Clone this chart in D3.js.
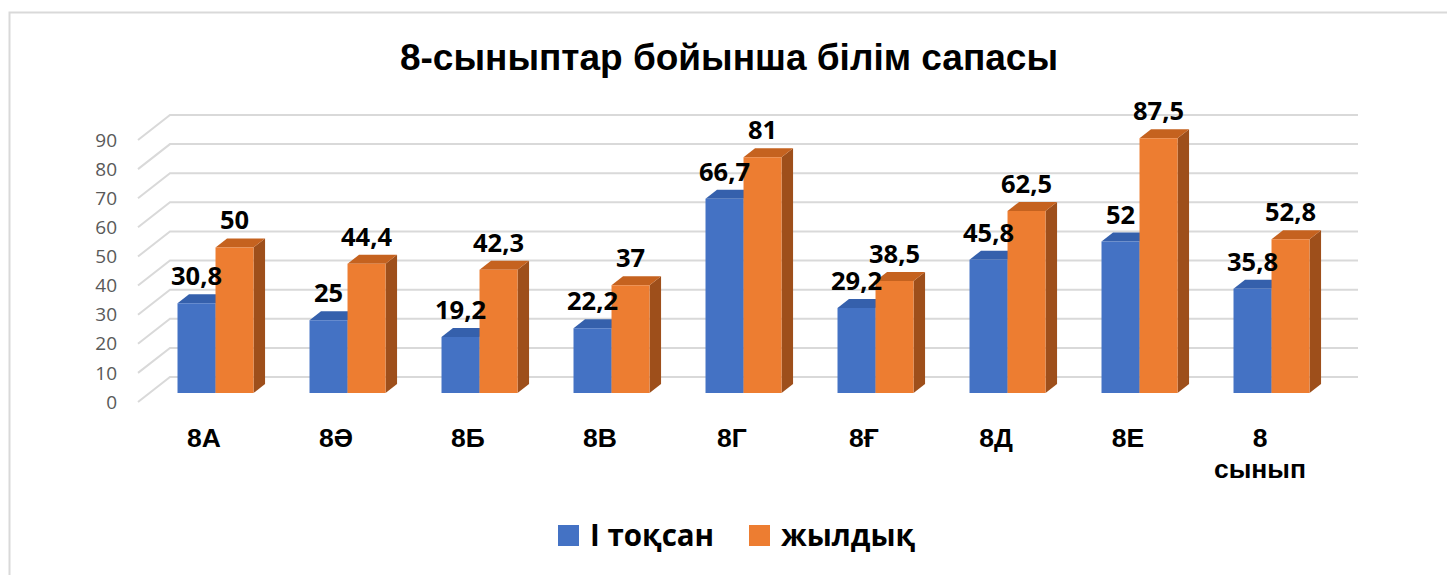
<!DOCTYPE html>
<html>
<head>
<meta charset="utf-8">
<script src="https://cdn.jsdelivr.net/npm/d3@7"></script>
<style>
  html, body { margin: 0; padding: 0; background: #fff; }
  svg { display: block; }
</style>
</head>
<body>
<div id="chart"></div>
<script>
// ---------------------------------------------
// DATA
// ---------------------------------------------
const categories = ["8А", "8Ә", "8Б", "8В", "8Г", "8Ғ", "8Д", "8Е", "8 сынып"];
const seriesNames = ["І тоқсан", "жылдық"];
const quarterValues = [30.8, 25, 19.2, 22.2, 66.7, 29.2, 45.8, 52, 35.8];
const yearValues    = [50, 44.4, 42.3, 37, 81, 38.5, 62.5, 87.5, 52.8];
const yTicks = [0, 10, 20, 30, 40, 50, 60, 70, 80, 90];
const titleText = "8-сыныптар бойынша білім сапасы";

(() => {
  const W = 1447, H = 575;
  const colors = {
    front: ["#4472C4", "#ED7D31"],
    top:   ["#3560AC", "#C5621F"],
    side:  ["#2F5597", "#9E4F1B"]
  };

  const svg = d3.select("#chart").append("svg")
    .attr("width", W).attr("height", H);

  // outer chart border (runs past the right and bottom edges)
  svg.append("rect")
    .attr("x", 9.5).attr("y", 12.5)
    .attr("width", W + 20).attr("height", H + 20)
    .attr("fill", "none")
    .attr("stroke", "#d9d9d9")
    .attr("stroke-width", 2);

  // ---------------------------------------------
  // SCALES (front plane + depth offset)
  // ---------------------------------------------
  const DX = 32, DY = -25;        // full wall depth
  const barZ0 = 0.36, barZ1 = 0.72;

  const y = d3.scaleLinear().domain([0, 90]).range([402, 140]);
  const xFront = [138, 1326];

  const x0 = d3.scaleBand()
    .domain(categories)
    .range(xFront)
    .paddingInner(0.424)
    .paddingOuter(0.212);

  const x1 = d3.scaleBand()
    .domain(seriesNames)
    .range([0, x0.bandwidth()]);

  const P = (x, v, z) => [x + DX * z, y(v) + DY * z];

  // ---------------------------------------------
  // WALLS / GRIDLINES
  // ---------------------------------------------
  const grid = svg.append("g")
    .attr("stroke", "#d9d9d9")
    .attr("stroke-width", 2)
    .attr("fill", "none");

  yTicks.forEach(v => {
    const a = P(xFront[0], v, 0), b = P(xFront[0], v, 1), c = P(xFront[1], v, 1);
    grid.append("polyline")
      .attr("points", [a, b, c].map(p => p.join(",")).join(" "));
  });

  svg.append("g").selectAll("text")
    .data(yTicks)
    .join("text")
    .attr("x", 117)
    .attr("y", d => y(d))
    .attr("dy", "0.35em")
    .attr("text-anchor", "end")
    .attr("font-family", "'Open Sans', sans-serif")
    .attr("font-size", 19)
    .attr("fill", "#595959")
    .text(d => d);

  // ---------------------------------------------
  // BARS (3D boxes)
  // ---------------------------------------------
  const rows = categories.map((c, i) => ({
    cat: c,
    vals: [quarterValues[i], yearValues[i]]
  }));

  const poly = pts => pts.map(p => p.join(",")).join(" ");
  const barsG = svg.append("g");

  rows.forEach(r => {
    seriesNames.forEach((s, si) => {
      const v = r.vals[si];
      const xl = x0(r.cat) + x1(s);
      const xr = xl + x1.bandwidth();
      const fTL = P(xl, v, barZ0), fTR = P(xr, v, barZ0);
      const fBR = P(xr, 0, barZ0), fBL = P(xl, 0, barZ0);
      const bTL = P(xl, v, barZ1), bTR = P(xr, v, barZ1), bBR = P(xr, 0, barZ1);
      const g = barsG.append("g");
      g.append("polygon").attr("points", poly([fTR, bTR, bBR, fBR]))
        .attr("fill", colors.side[si]);
      g.append("polygon").attr("points", poly([fTL, bTL, bTR, fTR]))
        .attr("fill", colors.top[si]);
      g.append("polygon").attr("points", poly([fTL, fTR, fBR, fBL]))
        .attr("fill", colors.front[si]);
    });
  });

  // data labels
  rows.forEach(r => {
    seriesNames.forEach((s, si) => {
      const v = r.vals[si];
      const [fx, fy] = P(x0(r.cat) + x1(s) + x1.bandwidth() / 2, v, barZ0);
      svg.append("text")
        .attr("x", fx)
        .attr("y", fy - 27)
        .attr("dy", "0.35em")
        .attr("text-anchor", "middle")
        .attr("font-family", "'Open Sans', sans-serif")
        .attr("font-weight", "bold")
        .attr("font-size", 25.5)
        .attr("fill", "#000")
        .text(String(v).replace(".", ","));
    });
  });

  // ---------------------------------------------
  // CATEGORY LABELS
  // ---------------------------------------------
  const catG = svg.append("g")
    .attr("font-family", "'Liberation Sans', Arial, sans-serif")
    .attr("font-weight", "bold")
    .attr("font-size", 26.5)
    .attr("text-anchor", "middle")
    .attr("fill", "#000");

  categories.forEach(c => {
    const cx = x0(c) + x0.bandwidth() / 2;
    const t = catG.append("text").attr("y", 438);
    c.split(" ").forEach((w, i) => {
      t.append("tspan").attr("x", cx).attr("dy", i === 0 ? "0.35em" : 31).text(w);
    });
  });

  // ---------------------------------------------
  // TITLE
  // ---------------------------------------------
  svg.append("text")
    .attr("x", 729)
    .attr("y", 57)
    .attr("dy", "0.35em")
    .attr("text-anchor", "middle")
    .attr("font-family", "'Liberation Sans', Arial, sans-serif")
    .attr("font-weight", "bold")
    .attr("font-size", 37)
    .attr("fill", "#000")
    .text(titleText);

  // ---------------------------------------------
  // LEGEND
  // ---------------------------------------------
  const legendX = [558, 749];
  const leg = svg.append("g");
  seriesNames.forEach((s, i) => {
    leg.append("rect")
      .attr("x", legendX[i]).attr("y", 525)
      .attr("width", 21).attr("height", 21)
      .attr("fill", colors.front[i]);
    leg.append("text")
      .attr("x", legendX[i] + 32)
      .attr("y", 536)
      .attr("dy", "0.35em")
      .attr("font-family", "'Open Sans', sans-serif")
      .attr("font-weight", "bold")
      .attr("font-size", 29.5)
      .attr("fill", "#000")
      .text(s);
  });
})();
</script>
</body>
</html>
